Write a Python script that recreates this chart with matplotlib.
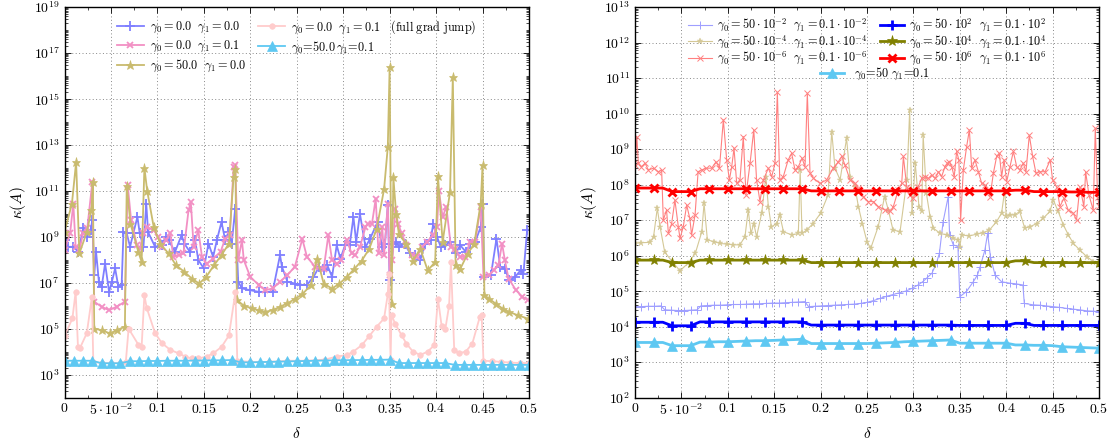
import numpy as np
import matplotlib.pyplot as plt
from matplotlib.ticker import FixedLocator, FuncFormatter, LogLocator, NullFormatter, MultipleLocator, LogFormatterMathtext

plt.rcParams['mathtext.fontset'] = 'cm'
plt.rcParams['font.family'] = ['cmr10', 'DejaVu Serif']
plt.rcParams['axes.unicode_minus'] = False
plt.rcParams['axes.formatter.use_mathtext'] = True

# ---- left panel data: (delta, log10 kappa) ----
blue_l = [(0.000, 8.85), (0.004, 8.56), (0.0095, 8.56), (0.015, 8.34), (0.020, 9.36), (0.024, 9.0),
          (0.028, 9.28), (0.030, 9.72), (0.032, 7.33), (0.034, 8.34), (0.037, 7.04), (0.040, 6.82),
          (0.0437, 7.83), (0.048, 6.6), (0.051, 7.04), (0.0545, 7.62), (0.058, 6.82), (0.0615, 6.9),
          (0.0635, 9.2), (0.067, 9.14), (0.0706, 8.56), (0.074, 9.14), (0.0785, 9.86), (0.081, 9.14),
          (0.085, 8.56), (0.088, 10.44), (0.090, 9.2), (0.0975, 8.56), (0.1047, 8.63), (0.109, 9.0),
          (0.112, 8.85), (0.119, 8.34), (0.126, 9.07), (0.129, 8.7), (0.135, 8.34), (0.1406, 8.85),
          (0.144, 7.98), (0.150, 7.62), (0.155, 8.7), (0.160, 8.12), (0.164, 8.85), (0.169, 9.64),
          (0.173, 8.85), (0.1765, 9.2), (0.180, 8.7), (0.1837, 10.22), (0.187, 7.04), (0.191, 6.75),
          (0.200, 6.67), (0.209, 6.6), (0.216, 6.6), (0.224, 6.6), (0.232, 8.2), (0.234, 7.7),
          (0.240, 7.04), (0.248, 6.96), (0.254, 6.9), (0.261, 6.9), (0.268, 7.25), (0.274, 7.68),
          (0.279, 7.54), (0.283, 7.75), (0.288, 7.25), (0.293, 8.63), (0.297, 8.04), (0.302, 8.63),
          (0.307, 8.63), (0.311, 9.86), (0.314, 8.77), (0.318, 10.0), (0.324, 8.55), (0.329, 8.92),
          (0.337, 9.64), (0.342, 8.55), (0.345, 8.7), (0.348, 10.37), (0.350, 7.1), (0.354, 8.7),
          (0.357, 8.77), (0.360, 8.55), (0.366, 8.7), (0.372, 8.27), (0.377, 8.2), (0.383, 7.98),
          (0.388, 8.7), (0.394, 8.85), (0.397, 9.57), (0.401, 9.0), (0.405, 8.55), (0.410, 8.63),
          (0.415, 8.77), (0.421, 8.27), (0.426, 8.63), (0.432, 8.34), (0.437, 8.7), (0.442, 8.77),
          (0.448, 9.42), (0.450, 10.44), (0.452, 7.25), (0.459, 7.32), (0.465, 8.92), (0.469, 7.68),
          (0.474, 7.6), (0.479, 7.1), (0.485, 7.25), (0.491, 7.54), (0.494, 7.39), (0.498, 9.28)]

pink_l = [(0.000, 8.41), (0.006, 9.14), (0.0095, 10.44), (0.012, 8.56), (0.016, 8.41), (0.020, 9.14),
          (0.0245, 9.36), (0.030, 11.4), (0.032, 6.17), (0.040, 5.95), (0.048, 5.8), (0.056, 5.95),
          (0.065, 6.17), (0.068, 11.27), (0.0717, 9.72), (0.078, 8.63), (0.081, 8.48), (0.085, 9.14),
          (0.089, 9.43), (0.096, 9.28), (0.101, 9.0), (0.105, 8.56), (0.109, 8.85), (0.114, 9.14),
          (0.117, 8.12), (0.123, 8.2), (0.128, 8.27), (0.1335, 10.15), (0.136, 10.5), (0.139, 8.56),
          (0.144, 9.28), (0.148, 8.12), (0.153, 7.83), (0.160, 8.05), (0.168, 8.34), (0.173, 8.92),
          (0.178, 9.07), (0.182, 12.04), (0.1838, 12.1), (0.187, 7.98), (0.191, 8.85), (0.193, 7.98),
          (0.200, 7.25), (0.209, 6.9), (0.216, 6.67), (0.224, 6.75), (0.232, 7.04), (0.240, 7.33),
          (0.248, 7.7), (0.256, 8.9), (0.261, 8.12), (0.270, 7.68), (0.279, 7.6), (0.284, 9.07),
          (0.288, 7.98), (0.293, 7.83), (0.298, 7.98), (0.304, 8.85), (0.309, 8.27), (0.313, 8.2),
          (0.318, 8.55), (0.324, 9.42), (0.327, 9.57), (0.331, 9.57), (0.335, 10.66), (0.338, 8.27),
          (0.342, 9.42), (0.344, 8.2), (0.348, 10.44), (0.350, 7.32), (0.353, 7.98), (0.356, 10.22),
          (0.359, 9.57), (0.363, 9.14), (0.368, 8.63), (0.374, 8.2), (0.379, 8.12), (0.385, 8.55),
          (0.390, 8.77), (0.397, 9.07), (0.401, 9.42), (0.403, 11.0), (0.407, 9.86), (0.411, 10.3),
          (0.416, 8.55), (0.420, 8.47), (0.426, 8.12), (0.431, 8.12), (0.437, 8.77), (0.442, 8.77),
          (0.448, 10.3), (0.451, 7.25), (0.457, 7.32), (0.462, 7.54), (0.467, 7.75), (0.471, 8.7),
          (0.474, 7.98), (0.478, 7.18), (0.486, 6.67), (0.493, 6.38), (0.499, 6.24)]

olive_l = [(0.000, 9.2), (0.008, 10.44), (0.0125, 12.25), (0.016, 8.27), (0.024, 9.2), (0.029, 10.15),
           (0.0305, 11.4), (0.032, 5.0), (0.040, 4.93), (0.049, 4.79), (0.056, 4.93), (0.065, 5.08),
           (0.067, 11.2), (0.071, 9.57), (0.0795, 8.34), (0.083, 7.9), (0.086, 12.0), (0.089, 11.0),
           (0.096, 9.43), (0.103, 8.7), (0.112, 8.27), (0.120, 7.76), (0.129, 7.47), (0.137, 7.18),
           (0.145, 6.96), (0.1525, 7.25), (0.161, 7.76), (0.169, 8.2), (0.177, 8.7), (0.182, 11.6),
           (0.184, 11.96), (0.1856, 6.24), (0.193, 6.0), (0.202, 5.88), (0.209, 5.8), (0.216, 5.73),
           (0.224, 5.8), (0.232, 5.95), (0.240, 6.1), (0.2485, 6.3), (0.256, 6.5), (0.265, 6.88),
           (0.272, 8.04), (0.279, 6.96), (0.288, 6.74), (0.296, 6.96), (0.304, 7.25), (0.312, 7.6),
           (0.320, 7.96), (0.328, 8.47), (0.336, 9.33), (0.344, 11.07), (0.348, 12.9), (0.350, 16.4),
           (0.352, 6.09), (0.354, 11.58), (0.357, 9.98), (0.360, 9.1), (0.368, 8.68), (0.375, 7.96),
           (0.383, 8.47), (0.391, 7.53), (0.399, 7.9), (0.402, 11.65), (0.407, 8.77), (0.415, 10.95),
           (0.418, 15.95), (0.421, 7.75), (0.426, 7.6), (0.434, 8.26), (0.441, 8.68), (0.448, 10.44),
           (0.450, 12.1), (0.452, 6.45), (0.457, 6.3), (0.464, 6.09), (0.472, 5.86), (0.479, 5.72),
           (0.488, 5.58), (0.499, 5.43)]

lpink_l = [(0.000, 4.68), (0.0085, 5.44), (0.012, 6.6), (0.0145, 4.2), (0.0165, 4.14), (0.024, 4.8),
           (0.0295, 6.38), (0.031, 3.55), (0.040, 3.5), (0.050, 3.5), (0.060, 3.5), (0.066, 3.55),
           (0.069, 5.0), (0.0795, 4.3), (0.083, 4.2), (0.086, 6.45), (0.0885, 5.9), (0.0975, 4.8),
           (0.105, 4.36), (0.114, 4.07), (0.123, 3.92), (0.130, 3.78), (0.137, 3.7), (0.144, 3.7),
           (0.153, 3.78), (0.160, 3.92), (0.169, 4.2), (0.177, 4.7), (0.184, 6.6), (0.186, 3.6),
           (0.200, 3.55), (0.220, 3.55), (0.240, 3.6), (0.260, 3.6), (0.280, 3.65), (0.293, 3.78),
           (0.304, 3.85), (0.311, 4.0), (0.320, 4.28), (0.328, 4.67), (0.336, 5.08), (0.344, 5.44),
           (0.348, 6.5), (0.349, 7.38), (0.351, 3.65), (0.352, 5.6), (0.356, 5.2), (0.363, 4.7),
           (0.368, 4.35), (0.375, 4.0), (0.383, 3.85), (0.391, 4.0), (0.398, 4.28), (0.402, 6.3),
           (0.406, 5.1), (0.410, 5.0), (0.414, 6.0), (0.416, 7.9), (0.4195, 4.07), (0.425, 3.93),
           (0.432, 4.0), (0.439, 4.35), (0.447, 5.5), (0.449, 5.6), (0.451, 3.6), (0.460, 3.58),
           (0.470, 3.55), (0.480, 3.52), (0.490, 3.5), (0.500, 3.5)]

cyan_l_d = np.round(np.arange(0, 51) * 0.01, 2)
cyan_l_e = [3.6, 3.6, 3.6, 3.6, 3.49, 3.49, 3.49, 3.58, 3.58, 3.59, 3.59, 3.6, 3.6, 3.6, 3.61, 3.61,
            3.62, 3.62, 3.63, 3.53, 3.53, 3.54, 3.55, 3.56, 3.57, 3.58, 3.59, 3.6, 3.61, 3.62, 3.62,
            3.63, 3.63, 3.64, 3.64, 3.65, 3.5, 3.5, 3.5, 3.5, 3.5, 3.5, 3.42, 3.42, 3.42, 3.42, 3.42,
            3.42, 3.42, 3.42, 3.42]

# ---- right panel data ----
lblue_r = [(0.000, 4.56), (0.007, 4.56), (0.014, 4.57), (0.021, 4.57), (0.028, 4.58), (0.032, 4.47),
           (0.039, 4.46), (0.046, 4.45), (0.053, 4.45), (0.060, 4.46), (0.067, 4.47), (0.071, 4.58),
           (0.078, 4.59), (0.085, 4.6), (0.092, 4.6), (0.099, 4.61), (0.106, 4.62), (0.113, 4.62),
           (0.120, 4.63), (0.127, 4.64), (0.134, 4.64), (0.141, 4.65), (0.148, 4.66), (0.155, 4.66),
           (0.162, 4.67), (0.169, 4.68), (0.176, 4.69), (0.183, 4.7), (0.187, 4.56), (0.194, 4.57),
           (0.201, 4.58), (0.208, 4.59), (0.215, 4.6), (0.222, 4.61), (0.229, 4.62), (0.236, 4.63),
           (0.243, 4.65), (0.250, 4.68), (0.257, 4.73), (0.264, 4.79), (0.271, 4.85), (0.278, 4.9),
           (0.285, 4.95), (0.292, 5.0), (0.299, 5.08), (0.305, 5.17), (0.310, 5.26), (0.315, 5.38),
           (0.320, 5.5), (0.325, 5.8), (0.328, 6.06), (0.332, 6.95), (0.3375, 7.66), (0.339, 6.58),
           (0.343, 6.3), (0.348, 6.25), (0.350, 4.84), (0.357, 4.98), (0.3645, 5.26), (0.369, 5.45),
           (0.372, 5.69), (0.377, 6.15), (0.380, 6.62), (0.383, 5.97), (0.388, 5.45), (0.395, 5.26),
           (0.404, 5.22), (0.411, 5.2), (0.418, 5.17), (0.4195, 4.65), (0.429, 4.61), (0.436, 4.6),
           (0.443, 4.58), (0.450, 4.56), (0.457, 4.54), (0.465, 4.51), (0.472, 4.49), (0.479, 4.47),
           (0.487, 4.44), (0.494, 4.43), (0.500, 4.42)]

lolive_r = [(0.000, 6.34), (0.007, 6.36), (0.016, 6.37), (0.020, 6.53), (0.024, 7.33), (0.027, 6.81),
            (0.032, 6.1), (0.040, 5.83), (0.0485, 5.57), (0.057, 5.78), (0.065, 6.06), (0.072, 6.67),
            (0.0744, 7.47), (0.078, 6.44), (0.085, 6.39), (0.0916, 6.34), (0.099, 6.32), (0.106, 6.3),
            (0.113, 6.3), (0.1185, 6.53), (0.122, 7.28), (0.125, 6.62), (0.128, 6.9), (0.131, 6.53),
            (0.1365, 7.19), (0.141, 8.22), (0.1437, 7.38), (0.147, 6.81), (0.1527, 6.9), (0.156, 7.14),
            (0.160, 6.67), (0.169, 6.58), (0.176, 6.62), (0.178, 8.4), (0.180, 6.62), (0.185, 6.72),
            (0.192, 6.9), (0.200, 7.19), (0.208, 7.7), (0.212, 9.49), (0.2155, 8.46), (0.221, 8.13),
            (0.228, 9.3), (0.2317, 8.22), (0.237, 7.94), (0.2407, 7.38), (0.245, 6.9), (0.250, 6.39),
            (0.254, 6.2), (0.262, 6.81), (0.269, 7.66), (0.273, 7.28), (0.278, 6.72), (0.2856, 6.67),
            (0.293, 8.13), (0.296, 10.1), (0.2985, 7.19), (0.302, 8.6), (0.306, 7.38), (0.309, 7.24),
            (0.3105, 9.39), (0.314, 7.75), (0.318, 7.09), (0.3215, 6.77), (0.329, 6.62), (0.336, 6.58),
            (0.343, 6.48), (0.3484, 6.44), (0.350, 6.25), (0.352, 6.58), (0.360, 6.55), (0.368, 6.6),
            (0.375, 6.64), (0.382, 6.72), (0.3895, 6.95), (0.395, 7.19), (0.3985, 7.85), (0.400, 7.1),
            (0.404, 7.14), (0.409, 7.14), (0.4145, 7.24), (0.420, 6.77), (0.4256, 6.81), (0.4328, 6.9),
            (0.440, 7.05), (0.447, 7.24), (0.4508, 7.56), (0.456, 7.24), (0.4616, 6.86), (0.467, 6.58),
            (0.4724, 6.34), (0.4795, 6.15), (0.4867, 5.97), (0.494, 5.83), (0.499, 5.78)]

lred_r = [(0.000, 8.55), (0.002, 9.35), (0.0036, 8.6), (0.007, 8.5), (0.0108, 8.6), (0.0144, 8.41),
          (0.020, 8.46), (0.025, 8.36), (0.0287, 8.41), (0.0305, 7.0), (0.034, 7.28), (0.036, 6.62),
          (0.0395, 6.9), (0.043, 7.56), (0.0467, 6.81), (0.0485, 6.48), (0.052, 6.81), (0.0557, 7.42),
          (0.059, 7.05), (0.061, 6.58), (0.0647, 7.14), (0.068, 8.36), (0.0718, 8.41), (0.077, 8.46),
          (0.0826, 8.46), (0.0873, 8.64), (0.091, 8.46), (0.0952, 9.82), (0.0988, 8.69), (0.1017, 8.13),
          (0.1042, 8.5), (0.1067, 9.02), (0.1096, 8.03), (0.1131, 8.13), (0.1167, 9.35), (0.1196, 7.7),
          (0.124, 8.6), (0.128, 9.54), (0.131, 8.13), (0.1347, 7.52), (0.1383, 8.13), (0.1437, 8.46),
          (0.1473, 8.22), (0.1509, 8.6), (0.1534, 10.6), (0.156, 8.13), (0.1598, 8.22), (0.165, 8.69),
          (0.1688, 8.88), (0.1724, 8.41), (0.176, 8.5), (0.180, 8.74), (0.1832, 8.5), (0.1857, 10.57),
          (0.1886, 8.32), (0.1922, 8.18), (0.1993, 8.03), (0.2065, 8.13), (0.2137, 8.46), (0.2191, 8.64),
          (0.2227, 8.79), (0.2263, 8.55), (0.2317, 8.13), (0.2371, 8.03), (0.2407, 7.89), (0.246, 7.66),
          (0.2514, 7.52), (0.2568, 7.52), (0.2622, 7.38), (0.2694, 7.28), (0.275, 7.24), (0.2784, 7.38),
          (0.2838, 7.85), (0.2874, 8.03), (0.2892, 8.79), (0.2928, 7.94), (0.296, 7.7), (0.2999, 7.61),
          (0.3053, 7.94), (0.3089, 8.17), (0.3125, 8.22), (0.3161, 8.17), (0.3197, 8.27), (0.3235, 8.17),
          (0.327, 8.36), (0.3304, 8.22), (0.334, 8.5), (0.3366, 8.6), (0.3388, 8.64), (0.3413, 8.5),
          (0.344, 8.22), (0.3466, 8.93), (0.349, 8.69), (0.3509, 7.0), (0.3538, 8.41), (0.3574, 9.07),
          (0.3603, 9.54), (0.3628, 8.46), (0.3664, 8.69), (0.370, 8.36), (0.3736, 8.03), (0.3772, 7.98),
          (0.3826, 7.66), (0.3862, 8.32), (0.3897, 8.79), (0.3926, 8.88), (0.3951, 8.22), (0.3977, 8.69),
          (0.4005, 8.08), (0.4041, 8.5), (0.4077, 8.93), (0.4113, 8.5), (0.4148, 8.41), (0.4184, 8.6),
          (0.4213, 8.36), (0.4249, 9.39), (0.4285, 8.79), (0.4321, 8.32), (0.4364, 8.36), (0.442, 8.36),
          (0.4474, 8.69), (0.450, 8.13), (0.4543, 7.94), (0.4579, 7.38), (0.4622, 7.61), (0.4668, 7.28),
          (0.4722, 7.19), (0.4758, 7.0), (0.4794, 7.94), (0.4837, 7.38), (0.4856, 8.36), (0.4892, 7.7),
          (0.4938, 7.28), (0.496, 9.58), (0.4985, 7.66), (0.500, 7.4)]

thick_d = np.round(np.arange(0, 51) * 0.01, 2)
red_r_e = [7.9, 7.9, 7.9, 7.9, 7.8, 7.8, 7.8, 7.88, 7.88, 7.88, 7.88, 7.88, 7.88, 7.88, 7.88, 7.88,
           7.88, 7.88, 7.88, 7.82, 7.82, 7.82, 7.82, 7.82, 7.82, 7.82, 7.82, 7.82, 7.82, 7.82, 7.82,
           7.82, 7.82, 7.82, 7.82, 7.82, 7.82, 7.82, 7.82, 7.82, 7.82, 7.84, 7.84, 7.8, 7.8, 7.8, 7.8,
           7.79, 7.79, 7.78, 7.78]
olive_r_e = [5.87, 5.87, 5.87, 5.87, 5.8, 5.8, 5.8, 5.87, 5.87, 5.87, 5.87, 5.87, 5.87, 5.87, 5.87,
             5.87, 5.87, 5.87, 5.87, 5.8, 5.8, 5.8, 5.8, 5.8, 5.8, 5.8, 5.8, 5.8, 5.8, 5.8, 5.8, 5.8,
             5.8, 5.8, 5.8, 5.8, 5.8, 5.8, 5.8, 5.8, 5.8, 5.85, 5.85, 5.8, 5.8, 5.8, 5.8, 5.8, 5.8,
             5.8, 5.8]
blue_r_e = [4.12, 4.12, 4.12, 4.12, 4.02, 4.02, 4.02, 4.13, 4.13, 4.13, 4.13, 4.13, 4.13, 4.13, 4.13,
            4.13, 4.13, 4.13, 4.13, 4.04, 4.04, 4.04, 4.04, 4.04, 4.04, 4.04, 4.04, 4.04, 4.04, 4.04,
            4.04, 4.04, 4.04, 4.04, 4.04, 4.03, 4.03, 4.03, 4.03, 4.03, 4.03, 4.09, 4.09, 4.03, 4.03,
            4.03, 4.03, 4.03, 4.03, 4.03, 4.03]
cyan_r_e = [3.55, 3.55, 3.55, 3.55, 3.46, 3.46, 3.46, 3.56, 3.56, 3.57, 3.57, 3.58, 3.59, 3.6, 3.6,
            3.61, 3.62, 3.63, 3.64, 3.52, 3.52, 3.52, 3.52, 3.52, 3.52, 3.52, 3.53, 3.54, 3.55, 3.57,
            3.58, 3.59, 3.6, 3.61, 3.62, 3.53, 3.53, 3.53, 3.53, 3.53, 3.53, 3.48, 3.48, 3.47, 3.47,
            3.46, 3.43, 3.42, 3.41, 3.4, 3.39]

xtick_vals = [0, 0.05, 0.1, 0.15, 0.2, 0.25, 0.3, 0.35, 0.4, 0.45, 0.5]
xtick_labels = ['$0$', r'$5\cdot10^{-2}$', '$0.1$', '$0.15$', '$0.2$', '$0.25$', '$0.3$', '$0.35$',
                '$0.4$', '$0.45$', '$0.5$']

left_labels = [r'$\gamma_0 = 0.0\ \ \gamma_1 = 0.0$',
               r'$\gamma_0 = 0.0\ \ \gamma_1 = 0.1$',
               r'$\gamma_0 = 50.0\ \ \gamma_1 = 0.0$',
               r'$\gamma_0 = 0.0\ \ \gamma_1 = 0.1\ \ \ \mathrm{(full\ grad\ jump)}$',
               r'$\gamma_0\!=\!50.0\,\gamma_1\!=\!0.1$']
right_labels = [r'$\gamma_0 = 50\cdot10^{-2}\ \ \gamma_1 = 0.1\cdot10^{-2}$',
                r'$\gamma_0 = 50\cdot10^{-4}\ \ \gamma_1 = 0.1\cdot10^{-4}$',
                r'$\gamma_0 = 50\cdot10^{-6}\ \ \gamma_1 = 0.1\cdot10^{-6}$',
                r'$\gamma_0 = 50\cdot10^{2}\ \ \gamma_1 = 0.1\cdot10^{2}$',
                r'$\gamma_0 = 50\cdot10^{4}\ \ \gamma_1 = 0.1\cdot10^{4}$',
                r'$\gamma_0 = 50\cdot10^{6}\ \ \gamma_1 = 0.1\cdot10^{6}$',
                r'$\gamma_0\!=\!50\ \gamma_1\!=\!0.1$']


def pairs(p):
    a = np.array(p)
    return a[:, 0], 10.0 ** a[:, 1]


def style_axes(ax, lo, hi, major_exps):
    ax.set_xlim(0, 0.5)
    ax.set_yscale('log')
    ax.set_ylim(10.0 ** lo, 10.0 ** hi)
    ax.xaxis.set_major_locator(FixedLocator(xtick_vals))
    ax.xaxis.set_major_formatter(FuncFormatter(lambda v, i: xtick_labels[i] if i is not None and i < len(xtick_labels) else ''))
    ax.xaxis.set_minor_locator(MultipleLocator(0.025))
    ax.yaxis.set_major_locator(FixedLocator([10.0 ** k for k in major_exps]))
    ax.yaxis.set_major_formatter(LogFormatterMathtext())
    ax.yaxis.set_minor_locator(LogLocator(base=10, subs=np.arange(1, 10), numticks=40))
    ax.yaxis.set_minor_formatter(NullFormatter())
    ax.tick_params(which='both', direction='in', top=True, right=True, labelsize=10)
    ax.tick_params(which='major', length=4, width=0.6)
    ax.tick_params(which='minor', length=2, width=0.5)
    ax.grid(True, which='major', linestyle=(0, (1, 2.5)), color='#888888', linewidth=0.7)
    for s in ax.spines.values():
        s.set_linewidth(1.0)
    ax.set_xlabel(r'$\delta$', fontsize=11, labelpad=6)
    ax.set_ylabel(r'$\kappa(A)$', fontsize=11, labelpad=4)


fig = plt.figure(figsize=(11.12, 4.40), dpi=100)
ax1 = fig.add_axes([64.5 / 1112, 42.5 / 440, 464.5 / 1112, 390.5 / 440])
ax2 = fig.add_axes([635 / 1112, 42.5 / 440, 464 / 1112, 390.5 / 440])

# left panel
d, y = pairs(blue_l)
ax1.plot(d, y, color='#7f7fff', lw=1.3, marker='+', ms=7, mew=1.3, label=left_labels[0])
d, y = pairs(pink_l)
ax1.plot(d, y, color='#f290c4', lw=1.3, marker='x', ms=5, mew=1.3, label=left_labels[1])
d, y = pairs(olive_l)
ax1.plot(d, y, color='#c9bb6e', lw=1.3, marker='*', ms=6.5, mew=0.5, label=left_labels[2])
d, y = pairs(lpink_l)
ax1.plot(d, y, color='#ffcccc', lw=1.3, marker='o', ms=4, mew=0.5, label=left_labels[3])
ax1.plot(cyan_l_d, 10.0 ** np.array(cyan_l_e), color='#5ec8f2', lw=1.3, marker='^', ms=6.5,
         mew=0.5, label=left_labels[4])
style_axes(ax1, 2, 19, range(3, 20, 2))
ax1.legend(loc='upper center', bbox_to_anchor=(0.5, 1.0), ncol=2, frameon=False, fontsize=8.8,
           handlelength=2.2, columnspacing=1.0, labelspacing=0.3, handletextpad=0.5,
           borderaxespad=0.5)

# right panel
d, y = pairs(lblue_r)
h1 = ax2.plot(d, y, color='#9f9fff', lw=0.8, marker='+', ms=5.5, mew=0.7, label=right_labels[0])[0]
d, y = pairs(lolive_r)
h2 = ax2.plot(d, y, color='#d4c896', lw=0.8, marker='*', ms=5, mew=0.3, label=right_labels[1])[0]
d, y = pairs(lred_r)
h3 = ax2.plot(d, y, color='#ff8080', lw=0.8, marker='x', ms=4.5, mew=0.7, label=right_labels[2])[0]
h4 = ax2.plot(thick_d, 10.0 ** np.array(blue_r_e), color='#0000ff', lw=2.0, marker='+', ms=7,
              mew=2.0, markevery=2, label=right_labels[3])[0]
h5 = ax2.plot(thick_d, 10.0 ** np.array(olive_r_e), color='#808000', lw=2.0, marker='*', ms=8,
              mew=0.5, markevery=2, label=right_labels[4])[0]
h6 = ax2.plot(thick_d, 10.0 ** np.array(red_r_e), color='#ff0000', lw=2.0, marker='x', ms=6,
              mew=2.0, markevery=2, label=right_labels[5])[0]
h7 = ax2.plot(thick_d, 10.0 ** np.array(cyan_r_e), color='#5ec8f2', lw=2.0, marker='^', ms=7.5,
              mew=0.5, markevery=2, label=right_labels[6])[0]
style_axes(ax2, 2, 13, range(2, 14))
leg1 = ax2.legend(handles=[h1, h2, h3, h4, h5, h6], loc='upper center', bbox_to_anchor=(0.5, 1.0),
                  ncol=2, frameon=False, fontsize=8.8, handlelength=2.0, columnspacing=1.0,
                  labelspacing=-0.04, handletextpad=0.4, borderaxespad=0.4)
ax2.add_artist(leg1)
ax2.legend(handles=[h7], loc='center', bbox_to_anchor=(0.517, 0.828), frameon=False, fontsize=8.8,
           handlelength=2.0, handletextpad=0.8)

fig.savefig('out.png', dpi=100)
